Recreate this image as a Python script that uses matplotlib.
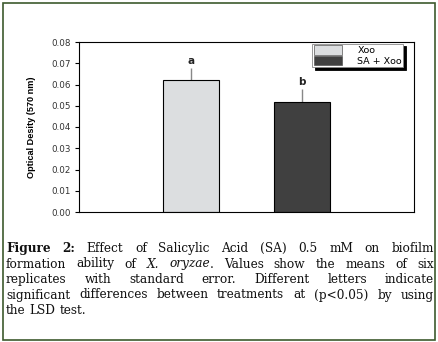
import matplotlib
matplotlib.use('Agg')
import matplotlib.pyplot as plt
from matplotlib.patches import Rectangle

# Biofilm optical density data
treatments = ['Xoo', 'SA + Xoo']
od_means = [0.062, 0.052]
od_se = [0.006, 0.006]
sig_letters = ['a', 'b']
bar_colors = ['#dcdee0', '#404040']
y_ticks = [0.00, 0.01, 0.02, 0.03, 0.04, 0.05, 0.06, 0.07, 0.08]

caption_lines = [
    [[('Figure', 'bold')], [('2:', 'bold')], [('Effect', '')], [('of', '')], [('Salicylic', '')],
     [('Acid', '')], [('(SA)', '')], [('0.5', '')], [('mM', '')], [('on', '')], [('biofilm', '')]],
    [[('formation', '')], [('ability', '')], [('of', '')], [('X.', 'italic')], [('oryzae', 'italic'), ('.', '')],
     [('Values', '')], [('show', '')], [('the', '')], [('means', '')], [('of', '')], [('six', '')]],
    [[(w, '')] for w in 'replicates with standard error. Different letters indicate'.split()],
    [[(w, '')] for w in 'significant differences between treatments at (p<0.05) by using'.split()],
    [[(w, '')] for w in 'the LSD test.'.split()],
]

W, H = 439, 342
fig = plt.figure(figsize=(W / 100, H / 100), dpi=100)
fig.patch.set_facecolor('white')

sans = ['DejaVu Sans']
narrow = ['Liberation Sans Narrow', 'Liberation Sans', 'DejaVu Sans']
serif = ['DejaVu Serif']

ax = fig.add_axes([79 / W, 1 - 212 / H, 335 / W, 170 / H])
x = [1, 2]
ax.bar(x, od_means, width=0.5, color=bar_colors, edgecolor='black', linewidth=0.8, zorder=2)
ax.errorbar(x, od_means, yerr=[[0, 0], od_se], fmt='none', ecolor='#888888',
            elinewidth=1.0, capsize=0, zorder=1)
for xi, m, s, lab in zip(x, od_means, od_se, sig_letters):
    ax.text(xi, m + s + 0.0008, lab, ha='center', va='bottom', fontsize=7.5,
            fontweight='bold', family=sans, color='#222222')

ax.set_xlim(0, 3)
ax.set_ylim(0, 0.08)
ax.set_yticks(y_ticks)
ax.set_yticklabels([f'{t:.2f}' for t in y_ticks], family=sans, fontsize=6.3, color='#333333')
ax.set_xticks([])
ax.tick_params(axis='y', direction='out', length=3, width=0.8, pad=3)
for sp in ax.spines.values():
    sp.set_linewidth(0.8)
ax.set_ylabel('Optical Desity (570 nm)', family=narrow, fontsize=6.6, fontweight='bold', labelpad=11)

handles = [Rectangle((0, 0), 1, 1, facecolor=c, edgecolor='#555555', linewidth=0.5) for c in bar_colors]
leg = ax.legend(handles, treatments, loc='upper right', bbox_to_anchor=(0.968, 0.99),
                fancybox=False, shadow={'color': 'black', 'alpha': 1.0}, framealpha=1,
                edgecolor='#888888', prop={'family': sans, 'size': 6.8},
                handlelength=3.0, handleheight=1.2, handletextpad=1.6,
                borderpad=0.15, labelspacing=0.05, borderaxespad=0)
leg.get_frame().set_linewidth(0.6)

# Justified caption below the chart
fig.canvas.draw()
renderer = fig.canvas.get_renderer()
left_px, right_px = 6, 434
line_y = [247, 262.5, 278, 293.5, 309]


def seg_props(style, size):
    p = dict(family=serif, fontsize=size, color='#111111')
    if style == 'bold':
        p['fontweight'] = 'bold'
    if style == 'italic':
        p['fontstyle'] = 'italic'
    return p


def seg_width(text, style, size):
    t = fig.text(0, 0, text, **seg_props(style, size))
    w = t.get_window_extent(renderer).width
    t.remove()
    return w


def natural_width(words, size):
    sp = seg_width('a a', '', size) - 2 * seg_width('a', '', size)
    return sum(seg_width(t, s, size) for word in words for t, s in word) + sp * (len(words) - 1)


# pick the caption size so the tightest line fits with a little slack
base = 10
widest = max(natural_width(w, base) for w in caption_lines[:-1])
cap_size = base * (right_px - left_px) * 0.92 / widest

space_w = seg_width('a a', '', cap_size) - 2 * seg_width('a', '', cap_size)
for i, (words, yp) in enumerate(zip(caption_lines, line_y)):
    widths = [[seg_width(t, s, cap_size) for t, s in word] for word in words]
    totals = [sum(w) for w in widths]
    if i == len(caption_lines) - 1:
        gap = space_w
    else:
        gap = (right_px - left_px - sum(totals)) / (len(words) - 1)
    xp = left_px
    for word, ws, tot in zip(words, widths, totals):
        xx = xp
        for (t, s), w in zip(word, ws):
            fig.text(xx / W, 1 - yp / H, t, va='center_baseline', ha='left', **seg_props(s, cap_size))
            xx += w
        xp += tot + gap

# Green frame around the figure
fig.patches.append(Rectangle((2.5 / W, 2.5 / H), 433 / W, 337 / H, transform=fig.transFigure,
                             fill=False, edgecolor='#3d5a2e', linewidth=1.2))

fig.savefig('out.png', dpi=100, facecolor='white')
